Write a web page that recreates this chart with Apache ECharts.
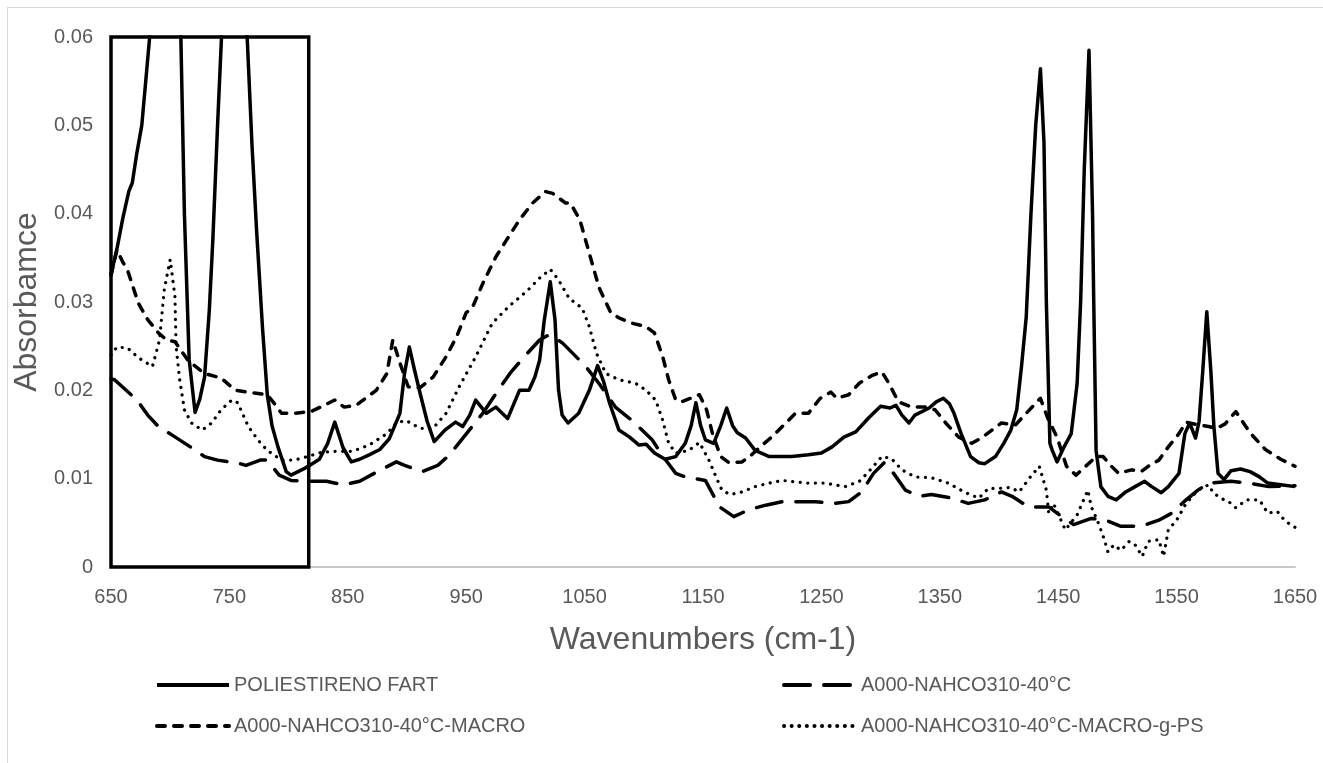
<!DOCTYPE html>
<html>
<head>
<meta charset="utf-8">
<script src="https://cdn.jsdelivr.net/npm/echarts@6/dist/echarts.min.js"></script>
<style>
  html, body { margin: 0; padding: 0; background: #fff; }
  #frame { position: absolute; left: 7px; top: 7px; width: 1400px; height: 800px; border-left: 1px solid #d9d9d9; border-top: 1px solid #d9d9d9; pointer-events: none; }
  #chart { position: absolute; left: 0; top: 0; width: 1323px; height: 763px; }
</style>
</head>
<body>
<div id="chart"></div>
<div id="frame"></div>
<script>
// wavenumbers (cm-1) and absorbance for each spectrum
const wnPol = [650, 655, 660, 665, 668, 672, 676, 680, 684, 690, 697, 704, 709, 712, 716, 721, 725, 729, 733, 736, 740, 744, 752, 760, 765, 769, 773, 778, 782, 786, 791, 798, 802, 808, 814, 820, 826, 833, 839, 846, 853, 860, 868, 877, 885, 894, 898, 902, 906, 911, 917, 923, 932, 941, 947, 953, 958, 967, 975, 985, 995, 1003, 1008, 1012, 1016, 1021, 1025, 1028, 1031, 1036, 1045, 1054, 1061, 1066, 1071, 1079, 1088, 1096, 1102, 1109, 1118, 1127, 1135, 1140, 1144, 1148, 1152, 1159, 1165, 1170, 1175, 1179, 1186, 1194, 1206, 1225, 1239, 1250, 1259, 1269, 1279, 1290, 1300, 1308, 1313, 1318, 1324, 1329, 1341, 1347, 1353, 1358, 1362, 1368, 1376, 1383, 1388, 1397, 1404, 1410, 1415, 1419, 1423, 1427, 1431, 1435, 1438, 1440, 1443, 1445, 1449, 1455, 1461, 1466, 1469, 1472, 1476, 1479, 1480, 1482, 1486, 1492, 1499, 1507, 1515, 1523, 1529, 1537, 1543, 1552, 1557, 1561, 1566, 1569, 1572, 1575.5, 1579, 1581.5, 1585, 1590, 1596, 1604, 1612, 1620, 1627, 1638, 1650];
const absPol = [0.0331, 0.0360, 0.0395, 0.0425, 0.0435, 0.047, 0.050, 0.056, 0.062, 0.075, 0.085, 0.075, 0.060, 0.040, 0.0235, 0.0175, 0.0190, 0.0215, 0.029, 0.037, 0.050, 0.062, 0.080, 0.070, 0.060, 0.048, 0.038, 0.027, 0.0195, 0.0160, 0.0136, 0.0108, 0.0104, 0.0108, 0.0112, 0.0117, 0.0122, 0.0140, 0.0164, 0.0135, 0.0119, 0.0122, 0.0127, 0.0133, 0.0145, 0.0174, 0.022, 0.0249, 0.0225, 0.0197, 0.0165, 0.0142, 0.0155, 0.0164, 0.0159, 0.0172, 0.0189, 0.0174, 0.0181, 0.0168, 0.0200, 0.0200, 0.0215, 0.0234, 0.028, 0.0323, 0.028, 0.020, 0.0172, 0.0163, 0.0174, 0.0200, 0.0228, 0.021, 0.0186, 0.0155, 0.0147, 0.0138, 0.0139, 0.0129, 0.0122, 0.0125, 0.0140, 0.016, 0.0186, 0.016, 0.0144, 0.0140, 0.016, 0.0180, 0.0160, 0.0152, 0.0146, 0.0132, 0.0125, 0.0125, 0.0127, 0.0129, 0.0136, 0.0147, 0.0153, 0.0169, 0.0182, 0.0180, 0.0183, 0.0172, 0.0163, 0.0172, 0.0180, 0.0187, 0.0191, 0.0185, 0.0174, 0.0151, 0.0125, 0.0118, 0.0117, 0.0125, 0.0140, 0.0155, 0.0178, 0.0227, 0.0283, 0.040, 0.050, 0.0564, 0.048, 0.030, 0.0140, 0.0132, 0.0119, 0.0136, 0.0151, 0.0208, 0.0302, 0.045, 0.0585, 0.040, 0.0302, 0.0132, 0.0091, 0.0080, 0.0076, 0.0085, 0.0091, 0.0097, 0.0091, 0.0084, 0.0091, 0.0106, 0.0151, 0.0163, 0.0146, 0.0165, 0.022, 0.0289, 0.022, 0.0159, 0.0106, 0.0099, 0.0109, 0.0111, 0.0108, 0.0102, 0.0095, 0.0093, 0.0091];

const wnNa = [650, 653, 672, 681, 690, 702, 717, 729, 740, 756, 764, 776, 782, 792, 802, 816, 832, 846, 860, 875, 891, 898, 913, 926, 936, 946, 964, 979, 988, 999, 1012, 1020, 1031, 1051, 1062, 1076, 1090, 1107, 1118, 1127, 1135, 1152, 1164, 1176, 1189, 1203, 1217, 1245, 1261, 1273, 1284, 1294, 1303, 1311, 1321, 1332, 1343, 1360, 1374, 1388, 1402, 1411, 1425, 1442, 1453, 1463, 1478, 1490, 1503, 1520, 1535, 1546, 1558, 1568, 1577, 1596, 1611, 1628, 1650];
const absNa = [0.0213, 0.0212, 0.0189, 0.0172, 0.0159, 0.0149, 0.0136, 0.0125, 0.0121, 0.0118, 0.0115, 0.0121, 0.0121, 0.0104, 0.0098, 0.0097, 0.0097, 0.0093, 0.0097, 0.0108, 0.0119, 0.0115, 0.0108, 0.0115, 0.0127, 0.0144, 0.0174, 0.0204, 0.0221, 0.0238, 0.0257, 0.0263, 0.0254, 0.0227, 0.0208, 0.0181, 0.0166, 0.0144, 0.0122, 0.0106, 0.0102, 0.0098, 0.0068, 0.0057, 0.0065, 0.0070, 0.0074, 0.0074, 0.0072, 0.0074, 0.0085, 0.0106, 0.0118, 0.0106, 0.0087, 0.0080, 0.0082, 0.0078, 0.0072, 0.0076, 0.0085, 0.0080, 0.0068, 0.0068, 0.0057, 0.0048, 0.0055, 0.0053, 0.0046, 0.0046, 0.0053, 0.0061, 0.0076, 0.0087, 0.0095, 0.0097, 0.0095, 0.0091, 0.0092];

const wnMacro = [650, 655, 660, 664, 673, 681, 690, 697, 704, 715, 729, 743, 755, 771, 782, 788, 794, 805, 819, 830, 839, 847, 857, 874, 883, 888, 894, 901, 911, 922, 933, 942, 950, 955, 964, 975, 984, 995, 1006, 1017, 1023, 1034, 1038, 1046, 1054, 1062, 1072, 1079, 1090, 1102, 1109, 1116, 1121, 1127, 1132, 1147, 1153, 1158, 1165, 1172, 1183, 1191, 1200, 1208, 1217, 1228, 1239, 1249, 1258, 1263, 1273, 1282, 1293, 1301, 1307, 1315, 1326, 1338, 1346, 1355, 1366, 1377, 1385, 1394, 1402, 1414, 1423, 1435, 1441, 1449, 1457, 1465, 1474, 1482, 1488, 1495, 1501, 1512, 1520, 1526, 1535, 1543, 1552, 1558, 1568, 1577, 1584, 1591, 1600, 1612, 1625, 1638, 1650];
const absMacro = [0.0330, 0.0359, 0.0345, 0.0336, 0.0299, 0.0280, 0.0265, 0.0257, 0.0255, 0.0234, 0.0219, 0.0214, 0.0200, 0.0197, 0.0195, 0.0185, 0.0174, 0.0174, 0.0176, 0.0183, 0.0189, 0.0181, 0.0183, 0.0200, 0.0219, 0.0257, 0.0231, 0.0204, 0.0203, 0.0215, 0.0238, 0.0261, 0.0288, 0.0293, 0.0321, 0.0351, 0.0370, 0.0393, 0.0412, 0.0425, 0.0423, 0.0412, 0.0412, 0.0393, 0.0355, 0.0317, 0.0288, 0.0282, 0.0276, 0.0272, 0.0265, 0.0238, 0.0212, 0.0189, 0.0187, 0.0195, 0.0178, 0.0151, 0.0125, 0.0118, 0.0119, 0.0127, 0.0138, 0.0147, 0.0159, 0.0174, 0.0174, 0.0191, 0.0198, 0.0191, 0.0195, 0.0208, 0.0217, 0.0221, 0.0208, 0.0187, 0.0181, 0.0181, 0.0178, 0.0163, 0.0147, 0.0140, 0.0146, 0.0155, 0.0163, 0.0161, 0.0174, 0.0191, 0.0169, 0.0147, 0.0114, 0.0104, 0.0115, 0.0125, 0.0125, 0.0114, 0.0106, 0.0110, 0.0108, 0.0114, 0.0121, 0.0136, 0.0151, 0.0164, 0.0161, 0.0159, 0.0157, 0.0162, 0.0176, 0.0152, 0.0133, 0.0122, 0.0114];

const wnGps = [650, 655, 664, 673, 685, 691, 695, 700, 704, 705, 708, 712, 718, 727, 735, 743, 752, 757, 766, 774, 782, 794, 805, 816, 828, 840, 854, 868, 883, 891, 899, 911, 922, 933, 944, 958, 972, 986, 1001, 1012, 1021, 1028, 1037, 1048, 1054, 1060, 1068, 1079, 1093, 1102, 1110, 1116, 1121, 1127, 1138, 1147, 1155, 1161, 1166, 1173, 1183, 1194, 1206, 1217, 1237, 1253, 1270, 1282, 1290, 1301, 1309, 1318, 1329, 1343, 1357, 1372, 1383, 1391, 1400, 1410, 1417, 1426, 1434, 1440, 1442, 1446, 1456, 1466, 1475, 1478, 1483, 1489, 1492, 1497, 1503, 1510, 1515, 1521, 1526, 1535, 1539, 1543, 1550, 1558, 1568, 1577, 1581, 1587, 1594, 1600, 1609, 1620, 1627, 1635, 1641, 1648, 1650];
const absGps = [0.0240, 0.0249, 0.0248, 0.0237, 0.0227, 0.0257, 0.0314, 0.0348, 0.0306, 0.0249, 0.0212, 0.0178, 0.0163, 0.0155, 0.0163, 0.0178, 0.0189, 0.0186, 0.0159, 0.0144, 0.0132, 0.0121, 0.0121, 0.0125, 0.0130, 0.0131, 0.0131, 0.0138, 0.0151, 0.0163, 0.0166, 0.0157, 0.0157, 0.0174, 0.0204, 0.0238, 0.0276, 0.0295, 0.0312, 0.0327, 0.0337, 0.0325, 0.0304, 0.0293, 0.0272, 0.0242, 0.0219, 0.0212, 0.0208, 0.0200, 0.0189, 0.0166, 0.0140, 0.0129, 0.0132, 0.0141, 0.0121, 0.0102, 0.0087, 0.0082, 0.0085, 0.0091, 0.0095, 0.0098, 0.0095, 0.0095, 0.0091, 0.0097, 0.0108, 0.0125, 0.0123, 0.0110, 0.0102, 0.0101, 0.0095, 0.0084, 0.0078, 0.0089, 0.0089, 0.0090, 0.0085, 0.0101, 0.0114, 0.0087, 0.0061, 0.0072, 0.0042, 0.0059, 0.0087, 0.0068, 0.0053, 0.0031, 0.0017, 0.0025, 0.0019, 0.0029, 0.0025, 0.0012, 0.0029, 0.0031, 0.0012, 0.0042, 0.0053, 0.0072, 0.0087, 0.0093, 0.0084, 0.0078, 0.0074, 0.0067, 0.0076, 0.0076, 0.0061, 0.0063, 0.0053, 0.0046, 0.0045];

const seriesNames = ['POLIESTIRENO FART', 'A000-NAHCO310-40°C', 'A000-NAHCO310-40°C-MACRO', 'A000-NAHCO310-40°C-MACRO-g-PS'];
const xTicks = [650, 750, 850, 950, 1050, 1150, 1250, 1350, 1450, 1550, 1650];
// zoomed region marked on the plot
const boxFrom = [650, 0];
const boxTo = [817, 0.06];

const pairs = (xs, ys) => xs.map((x, i) => [x, ys[i]]);
const grey = '#595959';
const font = 'Liberation Sans';

const legendBase = {
  orient: 'vertical',
  top: 670,
  itemWidth: 72,
  itemHeight: 14,
  itemGap: 21,
  itemStyle: { opacity: 0 },
  lineStyle: { width: 4 },
  textStyle: { fontFamily: font, fontSize: 20, color: grey }
};

const myChart = echarts.init(document.getElementById('chart'));
myChart.setOption({
  animation: false,
  grid: { left: 111, right: 28, top: 37, bottom: 196 },
  legend: [
    Object.assign({ left: 150, data: [seriesNames[0], seriesNames[2]] }, legendBase),
    Object.assign({ left: 777, data: [seriesNames[1], seriesNames[3]] }, legendBase)
  ],
  xAxis: {
    type: 'value',
    min: 650,
    max: 1650,
    interval: 50,
    name: 'Wavenumbers (cm-1)',
    nameLocation: 'middle',
    nameGap: 57,
    nameTextStyle: { fontFamily: font, fontSize: 32, color: grey },
    axisLine: { show: true, lineStyle: { color: '#c8c8c8', width: 2 } },
    axisTick: { show: false },
    splitLine: { show: false },
    axisLabel: {
      margin: 20,
      fontFamily: font,
      fontSize: 20,
      color: grey,
      formatter: v => (xTicks.indexOf(v) >= 0 ? String(v) : '')
    }
  },
  yAxis: {
    type: 'value',
    min: 0,
    max: 0.06,
    interval: 0.01,
    name: 'Absorbamce',
    nameLocation: 'middle',
    nameRotate: 90,
    nameGap: 60,
    nameTextStyle: { fontFamily: font, fontSize: 32, color: grey },
    axisLine: { show: false },
    axisTick: { show: false },
    splitLine: { show: false },
    axisLabel: { margin: 18, fontFamily: font, fontSize: 20, color: grey }
  },
  series: [{
    name: seriesNames[0],
    type: 'line',
    symbol: 'none',
    data: pairs(wnPol, absPol),
    lineStyle: { color: '#000', width: 3.5, join: 'round' },
    itemStyle: { color: '#000' },
    markArea: {
      silent: true,
      itemStyle: { color: 'rgba(0,0,0,0)', borderColor: '#000', borderWidth: 3.5 },
      data: [[{ xAxis: boxFrom[0], yAxis: boxFrom[1] }, { xAxis: boxTo[0], yAxis: boxTo[1] }]]
    }
  }, {
    name: seriesNames[1],
    type: 'line',
    symbol: 'none',
    data: pairs(wnNa, absNa),
    lineStyle: { color: '#000', width: 3.5, type: [26, 14], cap: 'round', join: 'round' },
    itemStyle: { color: '#000' }
  }, {
    name: seriesNames[2],
    type: 'line',
    symbol: 'none',
    data: pairs(wnMacro, absMacro),
    lineStyle: { color: '#000', width: 3.5, type: [8, 9], cap: 'round', join: 'round' },
    itemStyle: { color: '#000' }
  }, {
    name: seriesNames[3],
    type: 'line',
    symbol: 'none',
    data: pairs(wnGps, absGps),
    lineStyle: { color: '#000', width: 3.2, type: [0.1, 7.5], cap: 'round', join: 'round' },
    itemStyle: { color: '#000' }
  }]
});
window.addEventListener('resize', function () {
  myChart.resize();
});
</script>
</body>
</html>
